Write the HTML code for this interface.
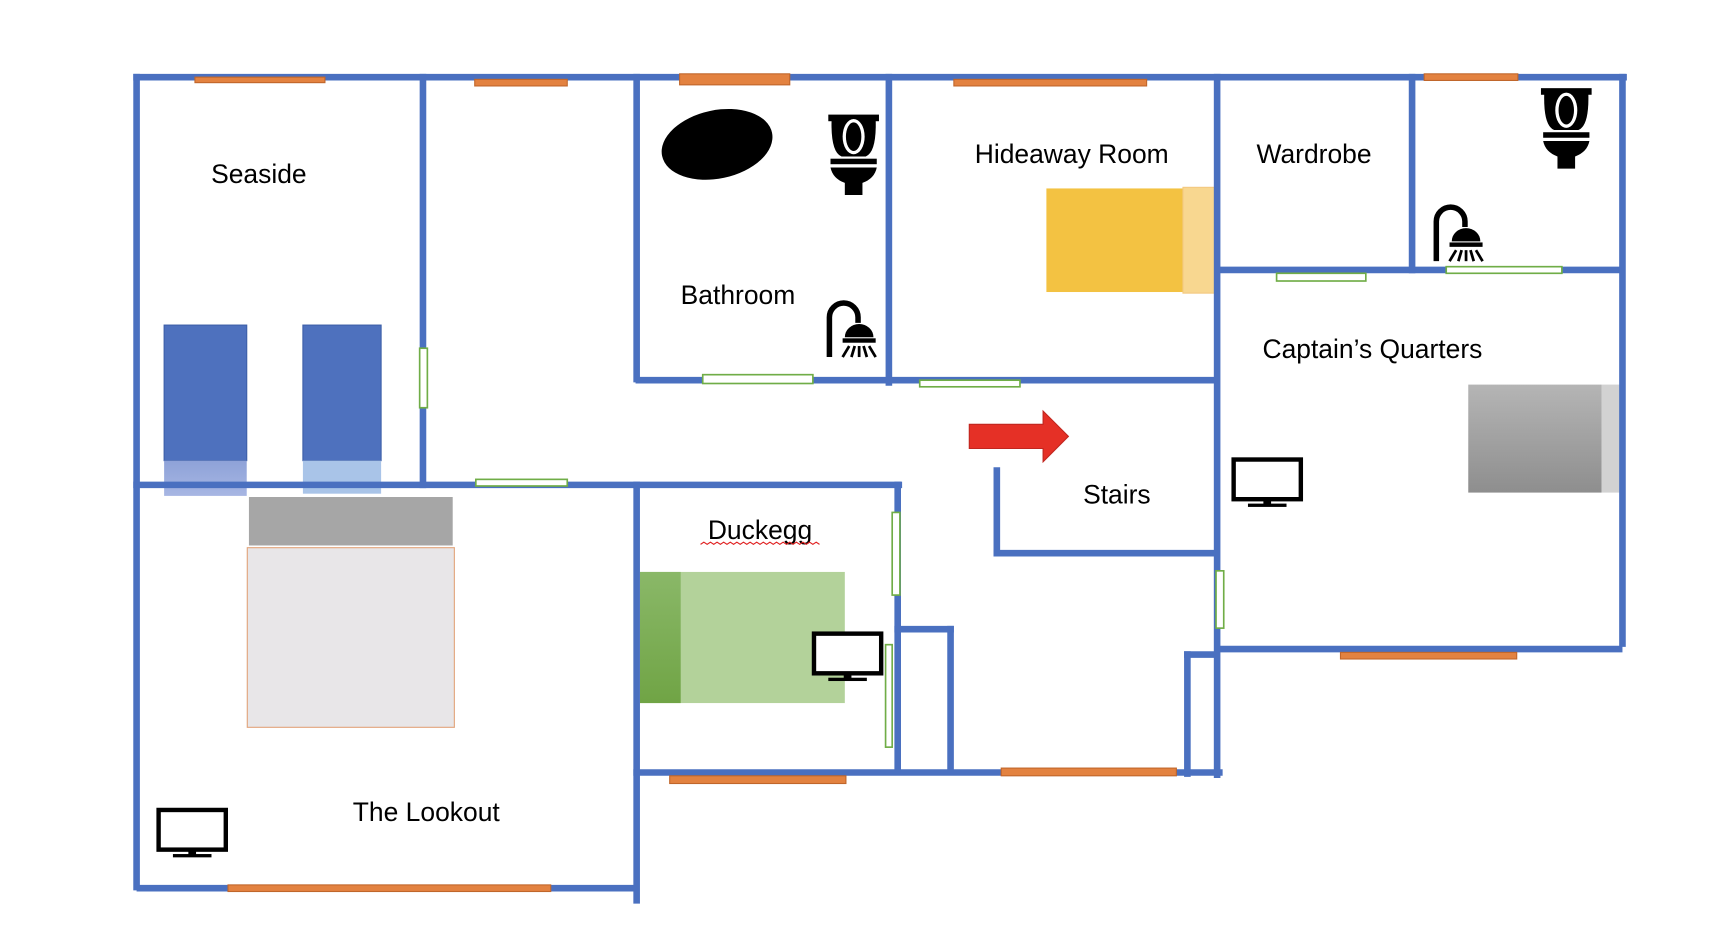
<!DOCTYPE html>
<html><head><meta charset="utf-8"><style>
html,body{margin:0;padding:0;background:#fff;}
svg{display:block;}
text{font-family:"Liberation Sans",sans-serif;font-size:24px;fill:#000;}
</style></head><body>
<svg width="1726" height="940" viewBox="0 0 1567 853" preserveAspectRatio="none" xmlns="http://www.w3.org/2000/svg">
<defs>
<g id="toilet">
<rect x="0" y="0" width="46" height="6"/>
<path d="M3,4 Q2,34 12,38 L34,38 Q44,34 43,4 Z"/>
<ellipse cx="23" cy="20" rx="10" ry="16" fill="#fff"/>
<ellipse cx="23" cy="20" rx="7" ry="13"/>
<rect x="2" y="40" width="42" height="5"/>
<path d="M2,48 L44,48 Q42,58 31,62 L31,73 L15,73 L15,62 Q4,58 2,48 Z"/>
</g>
<g id="shower">
<path d="M4,58 V22 A13,13 0 0 1 30,22 V27" fill="none" stroke="#000" stroke-width="5"/>
<path d="M18,40 A13,12 0 0 1 44,40 Z"/>
<rect x="16" y="41" width="30" height="4"/>
<g stroke="#000" stroke-width="2.5">
<line x1="22" y1="48" x2="16" y2="58"/><line x1="27" y1="48" x2="24" y2="58"/><line x1="31" y1="48" x2="31" y2="58"/><line x1="35" y1="48" x2="38" y2="58"/><line x1="40" y1="48" x2="46" y2="58"/>
</g>
</g>
<g id="tv">
<rect x="2" y="2" width="61" height="36" fill="#fff" stroke="#000" stroke-width="4"/>
<rect x="29" y="38" width="7" height="5"/>
<rect x="15" y="42" width="35" height="3"/>
</g>
<linearGradient id="gg" x1="0" y1="0" x2="0" y2="1"><stop offset="0" stop-color="#b5b5b5"/><stop offset="1" stop-color="#8e8e8e"/></linearGradient>
<linearGradient id="bl" x1="0" y1="0" x2="0" y2="1"><stop offset="0" stop-color="#8ea2d8"/><stop offset="1" stop-color="#a7b6e3"/></linearGradient>
<linearGradient id="gr" x1="0" y1="0" x2="0" y2="1"><stop offset="0" stop-color="#8ab868"/><stop offset="1" stop-color="#70a445"/></linearGradient>
</defs>

<rect x="149" y="295" width="75" height="123" fill="#4e71be" stroke="#3d5fa8" stroke-width="1"/>
<rect x="149" y="418" width="75" height="32" fill="url(#bl)"/>
<rect x="275" y="295" width="71" height="123" fill="#4e71be" stroke="#3d5fa8" stroke-width="1"/>
<rect x="275" y="418" width="71" height="30" fill="#a9c4e8"/>
<rect x="226" y="451" width="185" height="44" fill="#a6a6a6"/>
<rect x="224.5" y="497" width="188" height="163" fill="#e8e6e8" stroke="#e2a37a" stroke-width="1"/>
<rect x="950" y="171" width="124" height="94" fill="#f3c242"/>
<rect x="1074" y="170" width="29" height="96" fill="#f8d790" stroke="#f3c880" stroke-width="1"/>
<rect x="1333" y="349" width="121" height="98" fill="url(#gg)"/>
<rect x="1454" y="349" width="18" height="98" fill="#d2d2d2"/>
<rect x="581" y="519" width="186" height="119" fill="#b3d29a"/>
<rect x="581" y="519" width="37" height="119" fill="url(#gr)"/>

<ellipse cx="651" cy="131" rx="51" ry="31" transform="rotate(-12 651 131)" fill="#000"/>
<use href="#toilet" x="752" y="104"/>
<use href="#shower" x="749" y="266"/>
<use href="#toilet" x="1399" y="80"/>
<use href="#shower" x="1300" y="179"/>
<use href="#tv" x="1118" y="415"/>
<use href="#tv" x="737" y="573"/>
<use href="#tv" x="142" y="733"/>

<path d="M880,385 L947,385 L947,373 L970,396 L947,419 L947,407 L880,407 Z" fill="#e53026" stroke="#c0261f" stroke-width="1"/>

<g stroke="#4a70c0" stroke-width="6" fill="none" stroke-linecap="square">
<line x1="124" y1="70" x2="1474" y2="70"/>
<line x1="124" y1="70" x2="124" y2="805"/>
<line x1="384" y1="70" x2="384" y2="440"/>
<line x1="124" y1="440" x2="816" y2="440"/>
<line x1="578" y1="70" x2="578" y2="344"/>
<line x1="580" y1="345" x2="1104" y2="345"/>
<line x1="807" y1="70" x2="807" y2="347"/>
<line x1="1105" y1="70" x2="1105" y2="703"/>
<line x1="1106" y1="245" x2="1470" y2="245"/>
<line x1="1282" y1="70" x2="1282" y2="245"/>
<line x1="1473" y1="70" x2="1473" y2="584"/>
<line x1="1106" y1="589" x2="1470" y2="589"/>
<line x1="578" y1="440" x2="578" y2="817"/>
<line x1="127" y1="806" x2="576" y2="806"/>
<line x1="815" y1="440" x2="815" y2="700"/>
<line x1="578" y1="701" x2="1107" y2="701"/>
<line x1="815" y1="571" x2="863" y2="571"/>
<line x1="863" y1="571" x2="863" y2="700"/>
<line x1="905" y1="427" x2="905" y2="502"/>
<line x1="905" y1="502" x2="1104" y2="502"/>
<line x1="1078" y1="594" x2="1078" y2="702"/>
<line x1="1078" y1="594" x2="1104" y2="594"/>
</g>

<g fill="#e38240" stroke="#c0662b" stroke-width="1">
<rect x="177" y="70" width="118" height="5"/>
<rect x="431" y="72" width="84" height="6"/>
<rect x="617" y="67" width="100" height="10"/>
<rect x="866" y="72" width="175" height="6"/>
<rect x="1293" y="67" width="85" height="6"/>
<rect x="207" y="803" width="293" height="6"/>
<rect x="608" y="704" width="160" height="7"/>
<rect x="909" y="697" width="159" height="7"/>
<rect x="1217" y="592" width="160" height="6"/>
</g>
<g fill="#fff" stroke="#70ad47" stroke-width="1.5">
<rect x="638" y="340" width="100" height="8"/>
<rect x="835" y="345" width="91" height="6"/>
<rect x="1159" y="248" width="81" height="7"/>
<rect x="1313" y="242" width="105" height="6"/>
<rect x="432" y="435" width="83" height="6"/>
<rect x="381" y="316" width="7" height="54"/>
<rect x="810" y="465" width="7" height="75"/>
<rect x="804" y="585" width="6" height="93"/>
<rect x="1104" y="518" width="7" height="52"/>
</g>

<text x="235" y="166" text-anchor="middle">Seaside</text>
<text x="670" y="276" text-anchor="middle">Bathroom</text>
<text x="973" y="148" text-anchor="middle">Hideaway Room</text>
<text x="1193" y="148" text-anchor="middle">Wardrobe</text>
<text x="1246" y="325" text-anchor="middle">Captain’s Quarters</text>
<text x="1014" y="457" text-anchor="middle">Stairs</text>
<text x="690" y="489" text-anchor="middle">Duckegg</text>
<path d="M636,494 l3,-2 l3,2 l3,-2 l3,2 l3,-2 l3,2 l3,-2 l3,2 l3,-2 l3,2 l3,-2 l3,2 l3,-2 l3,2 l3,-2 l3,2 l3,-2 l3,2 l3,-2 l3,2 l3,-2 l3,2 l3,-2 l3,2 l3,-2 l3,2 l3,-2 l3,2 l3,-2 l3,2 l3,-2 l3,2 l3,-2 l3,2 l3,-2 l3,2" fill="none" stroke="#e02020" stroke-width="1"/>
<text x="387" y="745" text-anchor="middle">The Lookout</text>
</svg>
</body></html>
